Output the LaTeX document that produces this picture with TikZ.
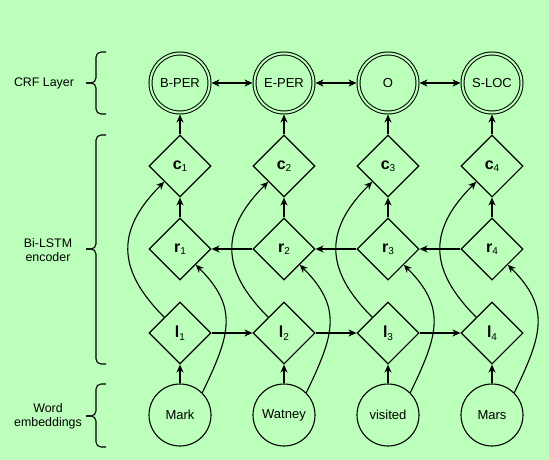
\documentclass[tikz,border=0pt]{standalone}
\usepackage{fontspec}
\setmainfont{Liberation Sans}
\usetikzlibrary{shapes.geometric,arrows.meta}
\definecolor{bgc}{RGB}{187,255,187}
\newcommand\dsym[2]{{\fontsize{16}{16}\selectfont\bfseries #1}\raisebox{-2.5pt}{\fontsize{10}{10}\selectfont #2}}
\begin{document}
\begin{tikzpicture}[x=1pt,y=-1pt,
  every node/.style={font=\fontsize{13}{14.3}\selectfont},
  ln/.style={line width=1.1pt},
  tip/.tip={Stealth[length=8pt,width=7pt,inset=2.5pt]},
  arr/.style={ln,-tip},
  darr/.style={ln,tip-tip},
  crf/.style={circle,draw,line width=1pt,double=bgc,double distance=2pt,minimum size=59pt,inner sep=0pt,outer sep=2pt},
  dia/.style={diamond,draw,ln,minimum width=62pt,minimum height=62pt,inner sep=0pt,aspect=1},
  word/.style={circle,draw,ln,minimum size=62pt,inner sep=0pt},
  lbl/.style={align=center,font=\fontsize{12.4}{14.3}\selectfont},
  brc/.style={ln,rounded corners=5pt}]
\fill[bgc] (0,0) rectangle (549,460);
\useasboundingbox (0,0) rectangle (549,460);
\foreach \i/\x/\t/\w in {1/180/B-PER/Mark,2/284/E-PER/Watney,3/388/O/visited,4/492/S-LOC/Mars}{
  \node[crf] (t\i) at (\x,83) {\t};
  \node[dia] (c\i) at (\x,166) {\dsym{c}{\i}};
  \node[dia] (r\i) at (\x,249) {\dsym{r}{\i}};
  \node[dia] (l\i) at (\x,333) {\dsym{l}{\i}};
  \node[word] (w\i) at (\x,415) {\w};
  \draw[arr] (w\i.north) -- (l\i.south);
  \draw[arr] (r\i.north) -- (c\i.south);
  \draw[arr] (c\i.north) -- (t\i.south);
  \draw[arr] (l\i.north west) .. controls +(-48,-48) and +(-48,48) .. (c\i.south west);
  \draw[arr] (w\i.45) .. controls +(28,-58) and +(43,43) .. (r\i.south east);
}
\foreach \a/\b in {1/2,2/3,3/4}{
  \draw[arr] (l\a.east) -- (l\b.west);
  \draw[arr] (r\b.west) -- (r\a.east);
  \draw[darr] (t\a.east) -- (t\b.west);
}
\node[lbl] (crfl) at (44,83) {CRF Layer};
\node[lbl] (bil) at (48,250) {Bi-LSTM\\encoder};
\node[lbl] (wel) at (48,416) {Word\\embeddings};
\draw[brc] (106,52) -- (96,52) -- (96,83) -- (86,83);
\draw[brc] (106,114) -- (96,114) -- (96,83) -- (86,83);
\draw[brc] (106,135) -- (96,135) -- (96,249) -- (86,249);
\draw[brc] (106,364) -- (96,364) -- (96,249) -- (86,249);
\draw[brc] (106,384) -- (96,384) -- (96,416) -- (86,416);
\draw[brc] (106,447) -- (96,447) -- (96,416) -- (86,416);
\end{tikzpicture}
\end{document}
